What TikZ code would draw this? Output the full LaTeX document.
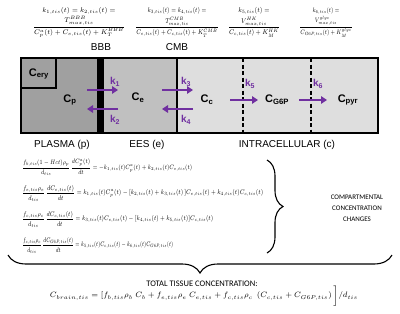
\documentclass[tikz,border=0pt]{standalone}
\usepackage{fontspec}
\newfontfamily\arialf{Liberation Sans}
\newfontfamily\calibf{Carlito}
\usetikzlibrary{arrows.meta,decorations.pathreplacing}
\definecolor{kpurple}{HTML}{7030A0}
\definecolor{gplasma}{HTML}{A0A0A0}
\definecolor{gees}{HTML}{C0C0C0}
\definecolor{gintra}{HTML}{DEDEDE}
\newcommand{\ratefrac}[3]{\resizebox*{#1}{30pt}{$\begin{array}{@{}c@{}}#2\\[2pt]\displaystyle #3\end{array}$}}
\newcommand{\eqfit}[2]{\resizebox*{#1}{16pt}{$\displaystyle #2$}}
\begin{document}
\begin{tikzpicture}[x=1pt,y=-1pt,
  comp/.style={font=\arialf\bfseries\fontsize{11}{12}\selectfont, inner sep=0pt},
  klab/.style={font=\arialf\bfseries\fontsize{10}{11}\selectfont, text=kpurple, inner sep=0pt},
  flux/.style={draw=kpurple, line width=2.2pt, -{Triangle[length=6pt,width=7.5pt]}},
  region/.style={font=\arialf\fontsize{10}{12}\selectfont, inner sep=0pt},
  rate/.style={font=\fontsize{7}{8}\selectfont, align=center, inner sep=0pt},
  eq/.style={font=\fontsize{7}{8}\selectfont, anchor=west, inner sep=0pt},
  note/.style={font=\calibf\fontsize{7}{11}\selectfont, align=center, inner sep=0pt},
  bracedec/.style={decorate, decoration={brace, amplitude=#1}, line width=1.1pt},
]
\useasboundingbox (0,0) rectangle (400,314);

% rate constants
\node[rate] (r1) at (79,22) {\ratefrac{92pt}{k_{1,tis}(t)=k_{2,tis}(t)=}{\frac{T^{BBB}_{max,tis}}{C^a_p(t)+C_{e,tis}(t)+K^{BBB}_T}}};
\node[rate] (r2) at (177,22) {\ratefrac{83pt}{k_{3,tis}(t)=k_{4,tis}(t)=}{\frac{T^{CMB}_{max,tis}}{C_{e,tis}(t)+C_{c,tis}(t)+K^{CMB}_T}}};
\node[rate] (r3) at (254,22) {\ratefrac{52pt}{k_{5,tis}(t)=}{\frac{V^{HK}_{max,tis}}{C_{c,tis}(t)+K^{HK}_M}}};
\node[rate] (r4) at (326,22) {\ratefrac{53pt}{k_{6,tis}(t)=}{\frac{V^{glyc}_{max,tis}}{C_{G6P,tis}(t)+K^{glyc}_M}}};

\node[region] (bbb) at (101,47) {BBB};
\node[region] (cmb) at (177,47) {CMB};

% compartments
\fill[gplasma] (21,58) rectangle (97,133);
\fill[black] (97,58) rectangle (104,133);
\fill[gees] (104,58) rectangle (177,133);
\fill[gintra] (177,58) rectangle (378,133);
\draw[line width=1.5pt] (177,58) -- (177,133);
\draw[line width=1.5pt, dash pattern=on 4pt off 2.5pt] (243,58) -- (243,133);
\draw[line width=1.5pt, dash pattern=on 4pt off 2.5pt] (311,58) -- (311,133);
\draw[line width=1.5pt, fill=gplasma] (21,58) rectangle (56,88);
\draw[line width=2pt] (21,58) rectangle (378,133);

\node[comp] (cery) at (39,74) {C\textsubscript{ery}};
\node[comp] (cp) at (70,100) {C\textsubscript{p}};
\node[comp] (ce) at (138,98) {C\textsubscript{e}};
\node[comp] (cc) at (207,100) {C\textsubscript{c}};
\node[comp] (cg) at (277,100) {C\textsubscript{G6P}};
\node[comp] (cpyr) at (348,100) {C\textsubscript{pyr}};

\coordinate (a1) at (87,90);  \coordinate (b1) at (118,90);
\coordinate (a2) at (118,109); \coordinate (b2) at (87,109);
\coordinate (a3) at (162,90); \coordinate (b3) at (193,90);
\coordinate (a4) at (193,109); \coordinate (b4) at (162,109);
\coordinate (a5) at (230,100); \coordinate (b5) at (258,100);
\coordinate (a6) at (299,100); \coordinate (b6) at (327,100);
\draw[flux] (a1) -- (b1);
\draw[flux] (a2) -- (b2);
\draw[flux] (a3) -- (b3);
\draw[flux] (a4) -- (b4);
\draw[flux] (a5) -- (b5);
\draw[flux] (a6) -- (b6);
\node[klab] (k1) at (115,82) {k\textsubscript{1}};
\node[klab] (k2) at (115,120) {k\textsubscript{2}};
\node[klab] (k3) at (186,82) {k\textsubscript{3}};
\node[klab] (k4) at (186,120) {k\textsubscript{4}};
\node[klab] (k5) at (250,84) {k\textsubscript{5}};
\node[klab] (k6) at (318,84) {k\textsubscript{6}};

\node[region] (lp) at (62,145) {PLASMA (p)};
\node[region] (le) at (147,145) {EES (e)};
\node[region] (lc) at (287,145) {INTRACELLULAR (c)};

% equations
\node[eq] (e1) at (22,167) {\eqfit{170pt}{\frac{f_{b,tis}(1-Hct)\rho_p}{d_{tis}}\,\frac{dC^a_p(t)}{dt}=-k_{1,tis}(t)C^a_p(t)+k_{2,tis}(t)C_{e,tis}(t)}};
\node[eq] (e2) at (22,193) {\eqfit{241pt}{\frac{f_{e,tis}\rho_e}{d_{tis}}\,\frac{dC_{e,tis}(t)}{dt}=k_{1,tis}(t)C^a_p(t)-[k_{2,tis}(t)+k_{3,tis}(t)\,]C_{e,tis}(t)+k_{4,tis}(t)C_{c,tis}(t)}};
\node[eq] (e3) at (22,219) {\eqfit{191pt}{\frac{f_{c,tis}\rho_c}{d_{tis}}\,\frac{dC_{c,tis}(t)}{dt}=k_{3,tis}(t)C_{e,tis}(t)-[k_{4,tis}(t)+k_{5,tis}(t)]C_{c,tis}(t)}};
\node[eq] (e4) at (22,245) {\eqfit{151pt}{\frac{f_{c,tis}\rho_c}{d_{tis}}\,\frac{dC_{G6P,tis}(t)}{dt}=k_{5,tis}(t)C_{c,tis}(t)-k_{6,tis}(t)C_{G6P,tis}(t)}};

\coordinate (vb1) at (267,160); \coordinate (vb2) at (267,253);
\draw[bracedec=16pt] (vb1) -- (vb2);
\node[note] (cc1) at (357,208) {COMPARTMENTAL\\CONCENTRATION\\CHANGES};

\coordinate (hb1) at (392,255); \coordinate (hb2) at (8,255);
\draw[bracedec=18pt] (hb1) -- (hb2);
\node[note, font=\calibf\fontsize{8.5}{10}\selectfont] (tot) at (202,284) {TOTAL TISSUE CONCENTRATION:};
\node[rate] (ctot) at (204,296) {\resizebox{308pt}{!}{$C_{brain,tis}=[f_{b,tis}\rho_b\;C_b+f_{e,tis}\rho_e\;C_{e,tis}+f_{c,tis}\rho_c\;\left(C_{c,tis}+C_{G6P,tis}\right)\big]/d_{tis}$}};
\end{tikzpicture}
\end{document}
